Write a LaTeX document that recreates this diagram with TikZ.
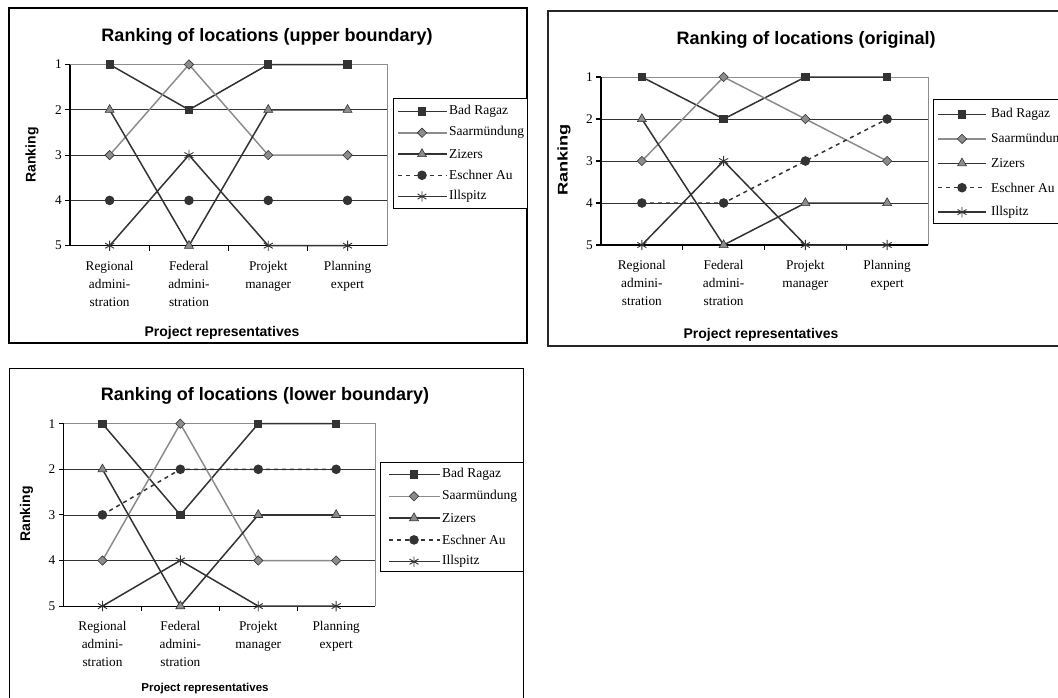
\documentclass[tikz,border=0pt]{standalone}
\usepackage{fontspec}
\setmainfont{Liberation Serif}
\setsansfont{Liberation Sans}
\usetikzlibrary{plotmarks}

\definecolor{dunkel}{gray}{0.2}
\definecolor{hell}{gray}{0.55}

\tikzset{
  framebox/.style={draw=black, line width=1.1pt},
  gridline/.style={draw=black!80, line width=0.8pt},
  plotborder/.style={draw=black!45, line width=1pt},
  axisline/.style={draw=black, line width=1.1pt},
  legendbox/.style={draw=black, fill=white, line width=1pt},
  serBad/.style={draw=dunkel, line width=1.5pt, mark=square*, mark size=3.4pt,
    mark options={solid, fill=dunkel, draw=dunkel}},
  serSaar/.style={draw=hell, line width=1.5pt, mark=square*, mark size=3.3pt,
    mark options={solid, rotate=45, fill=hell, draw=dunkel, line width=0.6pt}},
  serZiz/.style={draw=dunkel, line width=1.5pt, mark=triangle*, mark size=5.2pt,
    mark options={solid, fill=hell, draw=dunkel, line width=0.6pt}},
  serEsch/.style={draw=dunkel, line width=1.5pt, dash pattern=on 4pt off 4pt, mark=*,
    mark size=4pt, mark options={solid, fill=dunkel, draw=dunkel}},
  serIll/.style={draw=dunkel, line width=1.5pt, mark=asterisk, mark size=5.2pt,
    mark options={solid, draw=dunkel, line width=0.9pt}},
  titlelab/.style={font=\sffamily\bfseries\fontsize{18}{20}\selectfont, inner sep=0pt},
  axislab/.style={font=\sffamily\bfseries\fontsize{14}{16}\selectfont, inner sep=0pt},
  ticklab/.style={font=\fontsize{13.3}{16}\selectfont, inner sep=0pt, anchor=east},
  catlab/.style={font=\fontsize{13.3}{18}\selectfont, inner sep=0pt, anchor=north, align=center},
  legendlab/.style={font=\fontsize{13.5}{16}\selectfont, inner sep=0pt, anchor=west},
}

% grid, axes and labels of one ranking plot (x = category, y = rank)
\newcommand{\rankaxes}{%
  \foreach \r in {2,3,4} \draw[gridline] (0,\r) -- (4,\r);
  \draw[plotborder] (0,1) -- (4,1) -- (4,5);
  \draw[axisline] (0,1) -- (0,5) -- (4,5);
  \foreach \r in {1,...,5} {
    \draw[axisline] (0,\r) -- ++(-5pt,0);
    \node[ticklab] (tick\r) at ([xshift=-8pt]0,\r) {\r};
  }
  \foreach \c in {1,2,3} \draw[axisline] (\c,5) -- ++(0,-5pt);
  \foreach \txt [count=\c] in {{Regional\\admini-\\stration},{Federal\\admini-\\stration},{Projekt\\manager},{Planning\\expert}}
    \node[catlab] (cat\c) at ([yshift=-15pt]\c-0.5,5) {\txt};
}

% legend: width, height, sample left, marker, sample right, text, first y, step
\newcommand{\rankleg}[8]{%
  \draw[legendbox] (0,0) rectangle (#1,#2);
  \foreach \st/\nm [count=\i] in {serBad/Bad Ragaz, serSaar/Saarmündung, serZiz/Zizers, serEsch/Eschner Au, serIll/Illspitz} {
    \pgfmathsetmacro{\yy}{#7+(\i-1)*#8}
    \draw[\st] (#3,\yy) -- (#5,\yy);
    \draw[\st] plot coordinates {(#4,\yy)};
    \node[legendlab] (leg\i) at (#6,\yy) {\nm};
  }
}

\begin{document}
\begin{tikzpicture}[x=1pt,y=-1pt]
  \useasboundingbox (0,0) rectangle (1058,697);

  % upper boundary
  \draw[framebox] (9,8) rectangle (527,343);
  \node[titlelab] (title1) at (267,37) {Ranking of locations (upper boundary)};
  \node[axislab, rotate=90] (ylab1) at (32,155) {Ranking};
  \node[axislab] (xlab1) at (222,333) {Project representatives};
  \begin{scope}[shift={(70,19.2)}, x=79.3pt, y=-45.3pt]
    \rankaxes
    \draw[serBad] plot coordinates {(0.5,1) (1.5,2) (2.5,1) (3.5,1)};
    \draw[serSaar] plot coordinates {(0.5,3) (1.5,1) (2.5,3) (3.5,3)};
    \draw[serZiz] plot coordinates {(0.5,2) (1.5,5) (2.5,2) (3.5,2)};
    \draw[serEsch] plot coordinates {(0.5,4) (1.5,4) (2.5,4) (3.5,4)};
    \draw[serIll] plot coordinates {(0.5,5) (1.5,3) (2.5,5) (3.5,5)};
  \end{scope}
  \begin{scope}[shift={(393,98)}]
    \rankleg{134}{110}{5}{29}{54}{56}{13.5}{21.25}
  \end{scope}

  % original
  \draw[framebox, line width=1.5pt, draw=black!85] (548,11) rectangle (1070,346);
  \draw[black!85, line width=2.5pt] (548,346) -- (1070,346);
  \node[titlelab] (title2) at (806,40) {Ranking of locations (original)};
  \node[axislab, rotate=90] (ylab2) at (564,160) {\scalebox{1.3}[1]{Ranking}};
  \node[axislab] (xlab2) at (761,335) {Project representatives};
  \begin{scope}[shift={(601,35)}, x=81.75pt, y=-42pt]
    \rankaxes
    \draw[serBad] plot coordinates {(0.5,1) (1.5,2) (2.5,1) (3.5,1)};
    \draw[serSaar] plot coordinates {(0.5,3) (1.5,1) (2.5,2) (3.5,3)};
    \draw[serZiz] plot coordinates {(0.5,2) (1.5,5) (2.5,4) (3.5,4)};
    \draw[serEsch] plot coordinates {(0.5,4) (1.5,4) (2.5,3) (3.5,2)};
    \draw[serIll] plot coordinates {(0.5,5) (1.5,3) (2.5,5) (3.5,5)};
  \end{scope}
  \begin{scope}[shift={(933,99)}]
    \rankleg{140}{124}{5}{29}{53}{58}{15.5}{24.4}
  \end{scope}

  % lower boundary
  \draw[framebox, line width=1pt] (9,368) rectangle (523,720);
  \node[titlelab] (title3) at (265,396) {Ranking of locations (lower boundary)};
  \node[axislab, rotate=90] (ylab3) at (26.5,514) {Ranking};
  \node[axislab, font=\sffamily\bfseries\fontsize{11.5}{13}\selectfont] (xlab3) at (205,689) {Project representatives};
  \begin{scope}[shift={(63.5,378.1)}, x=77.9pt, y=-45.6pt]
    \rankaxes
    \draw[serBad] plot coordinates {(0.5,1) (1.5,3) (2.5,1) (3.5,1)};
    \draw[serSaar] plot coordinates {(0.5,4) (1.5,1) (2.5,4) (3.5,4)};
    \draw[serZiz] plot coordinates {(0.5,2) (1.5,5) (2.5,3) (3.5,3)};
    \draw[serEsch] plot coordinates {(0.5,3) (1.5,2) (2.5,2) (3.5,2)};
    \draw[serIll] plot coordinates {(0.5,5) (1.5,4) (2.5,5) (3.5,5)};
  \end{scope}
  \begin{scope}[shift={(380,462.5)}]
    \rankleg{143}{108.5}{9}{34}{60}{62}{12}{21.8}
  \end{scope}
\end{tikzpicture}
\end{document}
